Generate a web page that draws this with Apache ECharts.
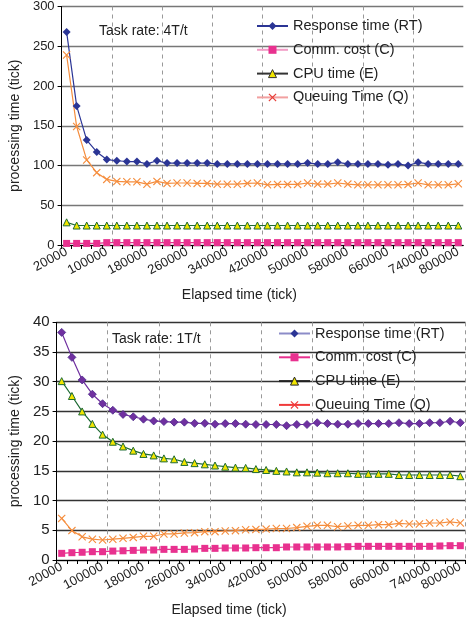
<!DOCTYPE html>
<html>
<head>
<meta charset="utf-8">
<script src="https://cdn.jsdelivr.net/npm/echarts@6/dist/echarts.min.js"></script>
<style>
html,body{margin:0;padding:0;background:#fff;}
#c{width:466px;height:619px;}
</style>
</head>
<body>
<div id="c"></div>
<script>
// Elapsed time categories (tick)
var elapsed = [];
for (var t = 20000; t <= 800000; t += 20000) elapsed.push(String(t));

// Task rate 4T/t
var rt4 = [268,175,132,117,107.5,106,105,105,102,106,103,103,103,103,103,102,102,102,102,102,102,102,102,102,103,102,102,104,102,102,102,102,101,102,100,104,102,102,102,102];
var comm4 = [2,2,2,2,3,3,3,3,3,3,3,3,3,3,3,3,3,3,3,3,3,3,3,3,3,3,3,3,3,3,3,3,3,3,3,3,3,3,3,3];
var cpu4 = [28.5,24.5,24.5,24.5,24.5,24.5,24.5,24.5,24.5,24.5,24.5,24.5,24.5,24.5,24.5,24.5,24.5,24.5,24.5,24.5,24.5,24.5,24.5,24.5,24.5,24.5,24.5,24.5,24.5,24.5,24.5,24.5,24.5,24.5,24.5,24.5,24.5,24.5,24.5,24.5];
var q4 = [239,149,107,91,82.5,80,79.5,79.5,76.5,80,77.5,78,78,77.5,77.5,76.5,76.5,76.5,77.5,78,75.7,76.2,76.2,76.2,78,76.6,76.6,78,76.6,75.7,75.7,75.7,75.7,75.7,76.2,78,75.7,75.7,75.7,77];

// Task rate 1T/t
var rt1 = [38.3,34.1,30.3,27.9,26.3,25.2,24.5,24.1,23.7,23.4,23.3,23.2,23.2,23.0,23.0,22.85,22.95,22.95,22.85,22.8,22.8,22.8,22.6,22.8,22.8,23.1,22.95,22.85,22.85,22.95,22.95,22.95,22.95,23.1,22.95,22.95,23.1,23.1,23.35,23.1];
var comm1 = [1.12,1.23,1.3,1.4,1.4,1.5,1.55,1.62,1.68,1.68,1.79,1.79,1.79,1.85,1.96,1.96,2.02,2.02,2.02,2.07,2.07,2.07,2.19,2.19,2.19,2.19,2.19,2.19,2.24,2.3,2.3,2.3,2.3,2.3,2.3,2.3,2.3,2.36,2.41,2.41];
var cpu1 = [30.1,27.6,25.0,22.9,21.1,19.9,19.1,18.4,17.85,17.6,17.1,16.95,16.5,16.3,16.1,15.9,15.7,15.55,15.5,15.3,15.15,15.0,14.9,14.75,14.75,14.7,14.6,14.6,14.6,14.5,14.5,14.5,14.5,14.3,14.3,14.3,14.3,14.3,14.3,14.1];
var q1 = [7.0,4.95,3.9,3.5,3.37,3.5,3.65,3.8,3.99,3.99,4.38,4.38,4.55,4.6,4.77,4.77,4.88,4.94,5.1,5.15,5.2,5.3,5.3,5.45,5.67,5.84,5.84,5.6,5.72,5.84,5.84,5.95,5.95,6.17,6.06,6.06,6.23,6.23,6.4,6.23];

var seriesNames = ['Response time (RT)','Comm. cost (C)','CPU time (E)','Queuing Time (Q)'];
var yTicks4 = {min:0, max:300, interval:50};
var yTicks1 = {min:0, max:40, interval:5};

var XSYM = 'path://M0,1L1,0L5,4L9,0L10,1L6,5L10,9L9,10L5,6L1,10L0,9L4,5Z';
var FONT = 'Liberation Sans, Arial, sans-serif';

function xAxisCfg(gi, nameShift) {
  return {
    gridIndex: gi, type: 'category', data: elapsed, boundaryGap: true,
    axisLine: {lineStyle: {color: '#000', width: 1}},
    axisTick: {show: true, interval: 0, length: 4, lineStyle: {color: '#000'}},
    axisLabel: {
      interval: function (i) { return i % 4 === 0 || i === elapsed.length - 1; },
      rotate: 28, fontSize: 13, color: '#222', fontFamily: FONT, margin: 6
    },
    splitLine: {show: true, interval: 4, lineStyle: {color: '#999', type: [4, 4], width: 1}},
    name: 'Elapsed time (tick)', nameLocation: 'middle', nameGap: 43,
    nameTextStyle: {fontSize: 14, color: '#222', fontFamily: FONT, padding: [0, nameShift, 0, 0]}
  };
}
function yAxisCfg(gi, ticks, gridColor, fs, gap) {
  return {
    gridIndex: gi, type: 'value', min: ticks.min, max: ticks.max, interval: ticks.interval,
    axisLine: {show: true, lineStyle: {color: '#000', width: 1}},
    axisTick: {show: true, length: 4, lineStyle: {color: '#000'}},
    axisLabel: {fontSize: fs, color: '#222', fontFamily: FONT, margin: 7},
    splitLine: {show: true, lineStyle: {color: gridColor, width: 1.3}},
    name: 'processing time (tick)', nameLocation: 'middle', nameGap: gap, nameRotate: 90,
    nameTextStyle: {fontSize: 14, color: '#222', fontFamily: FONT}
  };
}

var navy = '#2B3595', pink = '#E8318F', green = '#1E6B34', yellow = '#F2E600', orange = '#F58D3D', purple = '#7030A0';

function mk(name, gi, data, lineColor, symbol, size, itemStyle) {
  return {
    name: name, type: 'line', xAxisIndex: gi, yAxisIndex: gi, data: data,
    symbol: symbol, symbolSize: size, showSymbol: true, showAllSymbol: true,
    lineStyle: {color: lineColor, width: 1.2},
    itemStyle: itemStyle, animation: false, z: 3
  };
}

var series = [
  mk(seriesNames[1], 0, comm4, pink, 'rect', 7, {color: pink}),
  mk(seriesNames[2], 0, cpu4, green, 'triangle', 7, {color: yellow, borderColor: green, borderWidth: 1}),
  mk(seriesNames[3], 0, q4, orange, XSYM, 8, {color: orange}),
  mk(seriesNames[0], 0, rt4, navy, 'diamond', 8, {color: navy}),
  mk(seriesNames[1], 1, comm1, pink, 'rect', 7, {color: pink}),
  mk(seriesNames[2], 1, cpu1, green, 'triangle', 7, {color: yellow, borderColor: green, borderWidth: 1}),
  mk(seriesNames[3], 1, q1, orange, XSYM, 8, {color: orange}),
  mk(seriesNames[0], 1, rt1, purple, 'diamond', 8, {color: purple, borderColor: '#4B2A8A', borderWidth: 0.8})
];

function legendCfg(left, top, styles) {
  return {
    left: left, top: top, orient: 'vertical', padding: 0, itemGap: 8.8,
    itemWidth: 31, itemHeight: 10, selectedMode: false,
    textStyle: {fontSize: 14.5, color: '#222', fontFamily: FONT, padding: [0, 0, 0, 0]},
    data: seriesNames.map(function (n, i) {
      return {name: n, itemStyle: styles[i].item, lineStyle: styles[i].line};
    })
  };
}

var option = {
  backgroundColor: '#fff',
  animation: false,
  textStyle: {fontFamily: FONT},
  title: [
    {text: 'Task rate: 4T/t', left: 99, top: 24, padding: 0, textStyle: {fontSize: 14, fontWeight: 'normal', color: '#222', fontFamily: FONT}},
    {text: 'Task rate: 1T/t', left: 112, top: 332, padding: 0, textStyle: {fontSize: 14, fontWeight: 'normal', color: '#222', fontFamily: FONT}}
  ],
  grid: [
    {left: 59.3, top: 6, width: 404, height: 239},
    {left: 56, top: 322.3, width: 409.6, height: 237.7}
  ],
  xAxis: [xAxisCfg(0, 46), xAxisCfg(1, 64)],
  yAxis: [yAxisCfg(0, yTicks4, '#777', 13, 38), yAxisCfg(1, yTicks1, '#333', 15, 26)],
  legend: [
    legendCfg(256, 18.5, [
      {item: {color: navy}, line: {color: navy}},
      {item: {color: pink}, line: {color: '#F29CC6'}},
      {item: {color: yellow, borderColor: '#333', borderWidth: 1}, line: {color: '#333'}},
      {item: {color: '#E8403A'}, line: {color: '#F2A0A0'}}
    ]),
    legendCfg(278, 326, [
      {item: {color: navy}, line: {color: '#8C8CC8'}},
      {item: {color: pink}, line: {color: pink}},
      {item: {color: yellow, borderColor: '#222', borderWidth: 1}, line: {color: '#222'}},
      {item: {color: '#F03A3A'}, line: {color: '#F03A3A'}}
    ])
  ],
  series: series
};

var chart = echarts.init(document.getElementById('c'), null, {renderer: 'canvas'});
chart.setOption(option);
</script>
</body>
</html>
